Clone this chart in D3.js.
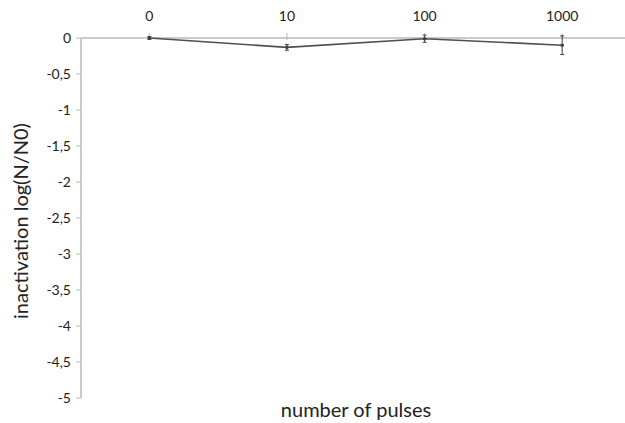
<!DOCTYPE html>
<html>
<head>
<meta charset="utf-8">
<script src="https://cdn.jsdelivr.net/npm/d3@7.9.0/dist/d3.min.js"></script>
<style>
  body { margin: 0; background: #fff; }
  text { font-family: Lato, "Open Sans", sans-serif; fill: #222; }
</style>
</head>
<body>
<svg id="chart" width="625" height="423"></svg>
<script>
const pulses = ['0', '10', '100', '1000'];
const inactivation = [0, -0.13, -0.01, -0.1];
const errors = [0.02, 0.04, 0.05, 0.13];
const yTicks = [0, -0.5, -1, -1.5, -2, -2.5, -3, -3.5, -4, -4.5, -5];

const svg = d3.select('#chart');

let x = d3.scaleBand()
  .domain(pulses)
  .range([80.5, 631]);

let y = d3.scaleLinear()
  .domain([-5, 0])
  .range([398, 38]);

const fmt = (d) => String(d).replace('.', ',');

// y axis
svg.append('line')
  .attr('x1', 81).attr('x2', 81)
  .attr('y1', y(0)).attr('y2', y(-5))
  .attr('stroke', '#b8b8b8').attr('stroke-width', 1.5);

yTicks.forEach((t) => {
  svg.append('line')
    .attr('x1', 76).attr('x2', 81)
    .attr('y1', y(t)).attr('y2', y(t))
    .attr('stroke', '#b8b8b8');
  svg.append('text')
    .attr('x', 71).attr('y', y(t) + 5)
    .attr('text-anchor', 'end')
    .attr('font-size', 14)
    .text(fmt(t));
});

// x axis along y = 0, labels on top
svg.append('line')
  .attr('x1', 81).attr('x2', 625)
  .attr('y1', y(0)).attr('y2', y(0))
  .attr('stroke', '#b8b8b8').attr('stroke-width', 1.5);

pulses.forEach((p) => {
  let cx = x(p) + x.bandwidth() / 2;
  svg.append('line')
    .attr('x1', cx).attr('x2', cx)
    .attr('y1', y(0) - 5).attr('y2', y(0) + 2)
    .attr('stroke', '#b8b8b8');
  svg.append('text')
    .attr('x', cx).attr('y', 21)
    .attr('text-anchor', 'middle')
    .attr('font-size', 14)
    .text(p);
});

// data line
let line = d3.line()
  .x((d, i) => x(pulses[i]) + x.bandwidth() / 2)
  .y((d) => y(d));

svg.append('path')
  .datum(inactivation)
  .attr('d', line)
  .attr('fill', 'none')
  .attr('stroke', '#505050')
  .attr('stroke-width', 1.6);

// error bars and markers
inactivation.forEach((v, i) => {
  let cx = x(pulses[i]) + x.bandwidth() / 2;
  svg.append('line')
    .attr('x1', cx).attr('x2', cx)
    .attr('y1', y(v + errors[i])).attr('y2', y(v - errors[i]))
    .attr('stroke', '#404040');
  [v + errors[i], v - errors[i]].forEach((e) => {
    svg.append('line')
      .attr('x1', cx - 2).attr('x2', cx + 2)
      .attr('y1', y(e)).attr('y2', y(e))
      .attr('stroke', '#404040');
  });
  svg.append('circle')
    .attr('cx', cx).attr('cy', y(v))
    .attr('r', 1.8)
    .attr('fill', '#404040');
});

// axis titles
svg.append('text')
  .attr('transform', 'translate(28,221) rotate(-90)')
  .attr('text-anchor', 'middle')
  .attr('font-size', 20)
  .text('inactivation log(N/N0)');

svg.append('text')
  .attr('x', 356).attr('y', 417)
  .attr('text-anchor', 'middle')
  .attr('font-size', 20)
  .text('number of pulses');
</script>
</body>
</html>
